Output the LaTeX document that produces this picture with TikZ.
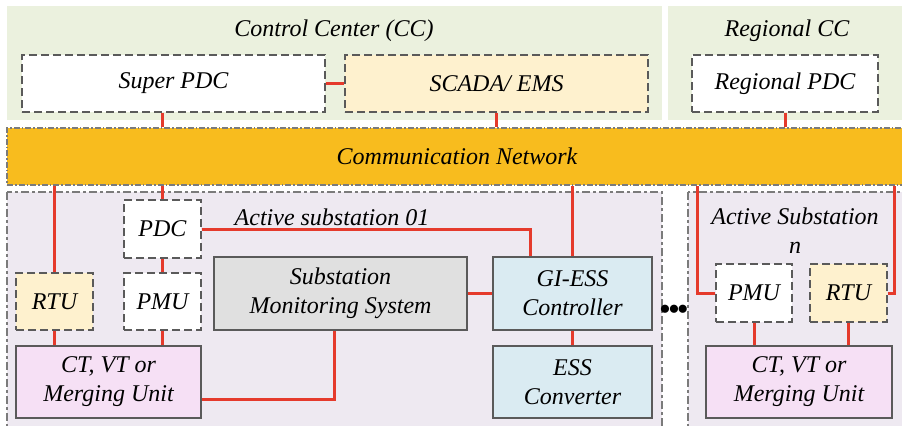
\documentclass[tikz,border=0pt]{standalone}
\usepackage{fontspec}
\setmainfont{Liberation Serif}
\usetikzlibrary{calc}

\definecolor{ccgreen}{HTML}{EBF1DE}
\definecolor{scadayellow}{HTML}{FEF1CE}
\definecolor{netorange}{HTML}{F8BC1E}
\definecolor{subviolet}{HTML}{EEE9F1}
\definecolor{ctpink}{HTML}{F6E0F5}
\definecolor{smsgray}{HTML}{E0E0E0}
\definecolor{essblue}{HTML}{DAEBF2}
\definecolor{linkred}{HTML}{E53A2C}
\definecolor{boxgray}{HTML}{5A5A5A}

\begin{document}
\begin{tikzpicture}[x=0.5pt, y=-0.5pt, font=\fontsize{12}{14.5}\selectfont\itshape,
    wh/.style 2 args={minimum width={#1*0.5pt}, minimum height={#2*0.5pt}},
    box/.style={draw=boxgray, line width=0.6pt, align=center, inner sep=2pt},
    dashbox/.style={box, dash pattern=on 4pt off 2pt},
    subframe/.style={draw=boxgray!80, line width=0.6pt, fill=subviolet,
      dash pattern=on 4pt off 1.5pt on 1.5pt off 1.5pt},
    link/.style={draw=linkred, line width=1.5pt}]
  \useasboundingbox (0,0) rectangle (902,425);

  % control centers
  \fill[ccgreen] (7,6) rectangle (662,120);
  \fill[ccgreen] (668,6) rectangle (906,120);
  \node (cctitle) at (334,31) {Control Center (CC)};
  \node (rcctitle) at (787,31) {Regional CC};
  \node[dashbox, fill=white, wh={303}{57}] (superpdc) at (173.5,83.5) {Super PDC};
  \node[dashbox, fill=scadayellow, wh={303}{57}] (scada) at (496.5,83.5) {SCADA/ EMS};
  \node[dashbox, fill=white, wh={186}{57}] (rpdc) at (785,83.5) {Regional PDC};

  % network
  \node[draw=boxgray!80, line width=0.6pt, fill=netorange, wh={900}{57},
    dash pattern=on 3pt off 1pt on 0.8pt off 1pt] (comm) at (457,156.5) {Communication Network};

  % substations
  \draw[subframe] (7,192) rectangle (662,432);
  \draw[subframe] (688,192) rectangle (908,432);
  \node (sub1title) at (332,217) {Active substation 01};
  \node[align=center, inner sep=0pt] (subntitle) at (795,231) {Active Substation\\n};
  \node[font=\fontsize{17}{17}\selectfont, inner sep=0pt] (dots) at (674,313)
    {\textbullet\hspace{-1.5pt}\textbullet\hspace{-1.5pt}\textbullet};

  \node[dashbox, fill=white, wh={77}{58}] (pdc) at (162.5,229) {PDC};
  \node[dashbox, fill=scadayellow, wh={77}{57}] (rtu1) at (54.5,301.5) {RTU};
  \node[dashbox, fill=white, wh={77}{57}] (pmu1) at (162.5,301.5) {PMU};
  \node[box, fill=ctpink, wh={185}{72}] (ct1) at (108.5,382) {CT, VT or\\Merging Unit};
  \node[box, fill=smsgray, wh={253}{73}] (sms) at (340.5,293.5) {Substation\\Monitoring System};
  \node[box, fill=essblue, wh={159}{73}] (giess) at (572.5,293.5) {GI-ESS\\Controller};
  \node[box, fill=essblue, wh={159}{72}] (ess) at (572.5,382) {ESS\\Converter};

  \node[dashbox, fill=white, wh={76}{58}] (pmun) at (754,293) {PMU};
  \node[dashbox, fill=scadayellow, wh={77}{58}] (rtun) at (848.5,293) {RTU};
  \node[box, fill=ctpink, wh={186}{72}] (ctn) at (799,382) {CT, VT or\\Merging Unit};

  % links
  \draw[link] (superpdc.east) -- (scada.west);
  \draw[link] (superpdc.south -| pdc) -- (comm.north -| pdc);
  \draw[link] (scada.south) -- (comm.north -| scada);
  \draw[link] (rpdc.south) -- (comm.north -| rpdc);
  \draw[link] (comm.south -| rtu1) -- (rtu1.north);
  \draw[link] (comm.south -| pdc) -- (pdc.north);
  \draw[link] (pdc.south) -- (pmu1.north);
  \draw[link] (rtu1.south) -- (rtu1.south |- ct1.north);
  \draw[link] (pmu1.south) -- (pmu1.south |- ct1.north);
  \draw[link] (pdc.east) -| ($(giess.north west)+(38,0)$);
  \draw[link] (comm.south -| giess) -- (giess.north);
  \draw[link] (sms.east) -- (giess.west);
  \draw[link] (giess.south) -- (ess.north);
  \draw[link] ($(ct1.east)+(0,17)$) -| ($(sms.south)+(-6,0)$);
  \draw[link] (pmun.west) -- ++(-18,0) coordinate (pmutap) -- (pmutap |- comm.south);
  \draw[link] (rtun.east) -- ++(7,0) coordinate (rtutap) -- (rtutap |- comm.south);
  \draw[link] (pmun.south) -- (pmun.south |- ctn.north);
  \draw[link] (rtun.south) -- (rtun.south |- ctn.north);
\end{tikzpicture}
\end{document}
